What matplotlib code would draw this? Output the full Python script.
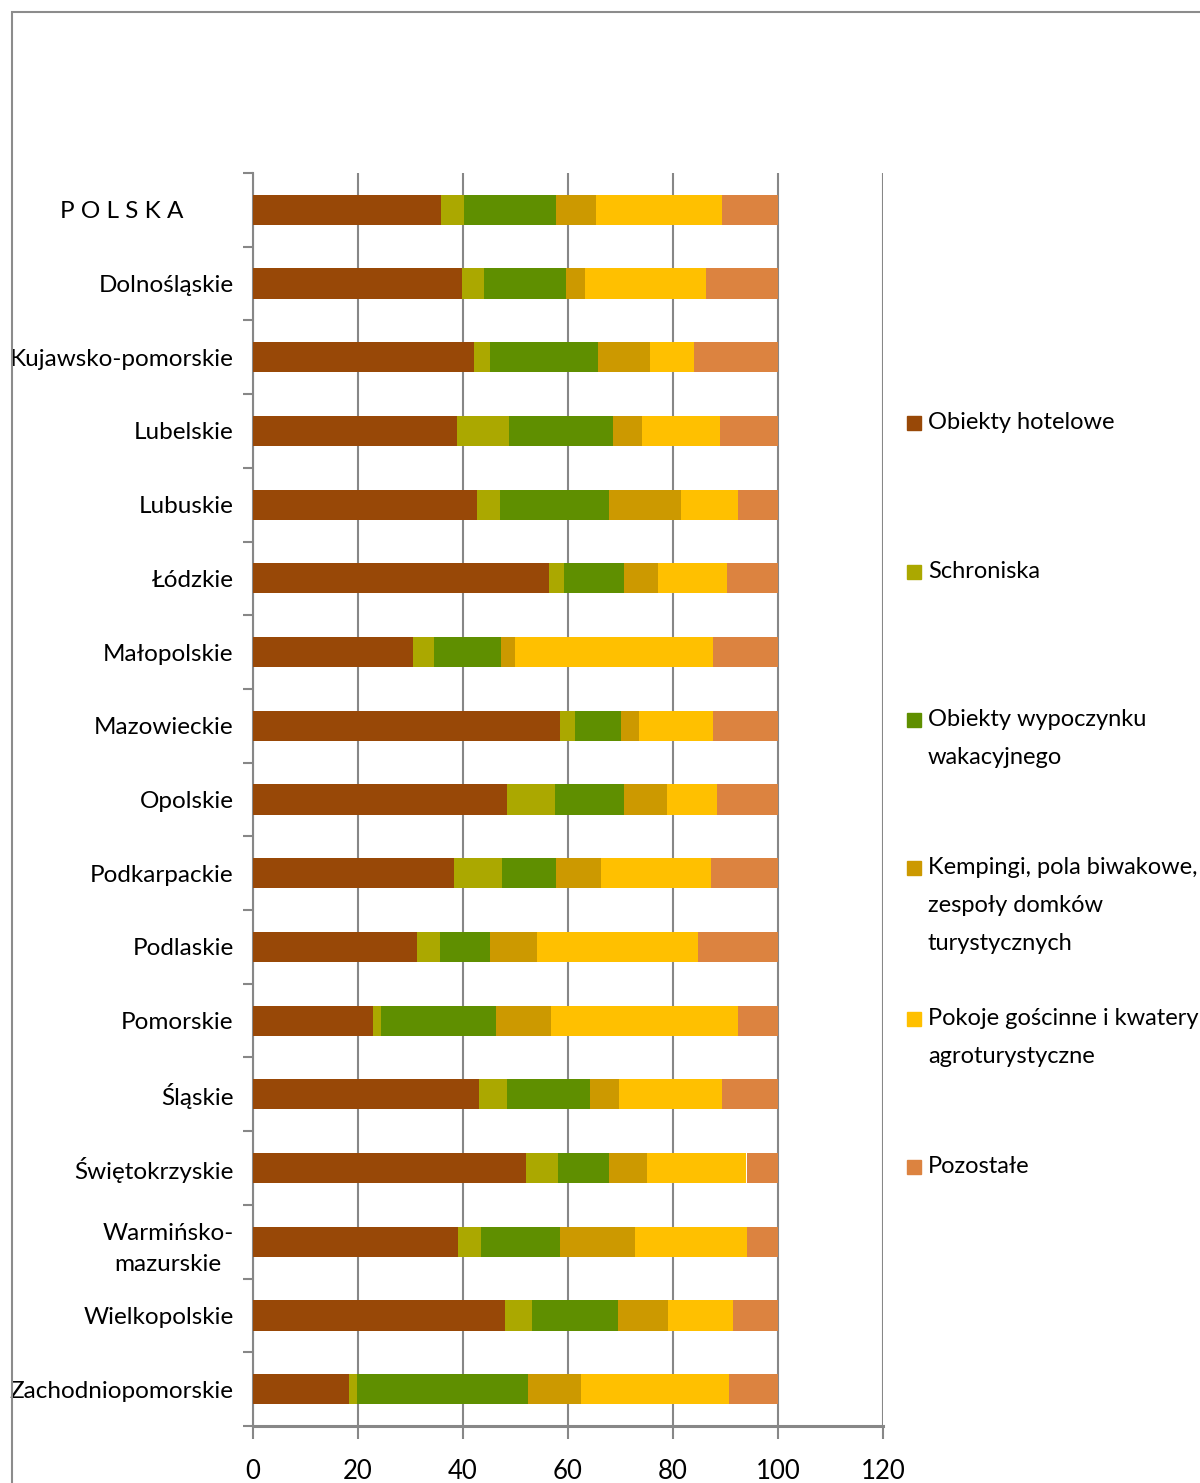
import numpy as np
import matplotlib
matplotlib.use("Agg")
from matplotlib import pyplot as plt
from matplotlib.patches import Rectangle

plt.rcParams['font.family'] = ['Lato', 'DejaVu Sans']

regions = ["P O L S K A        ", "Dolnośląskie", "Kujawsko-pomorskie", "Lubelskie", "Lubuskie",
           "Łódzkie", "Małopolskie", "Mazowieckie", "Opolskie", "Podkarpackie", "Podlaskie",
           "Pomorskie", "Śląskie", "Świętokrzyskie", "Warmińsko-\nmazurskie", "Wielkopolskie",
           "Zachodniopomorskie"]

hotelowe = [35.8, 39.8, 42.1, 38.9, 42.7, 56.4, 30.4, 58.5, 48.4, 38.2, 31.2, 22.8, 43.0, 52.0, 39.0, 48.0, 18.2]
schroniska = [4.4, 4.2, 3.0, 9.8, 4.3, 2.8, 4.0, 2.8, 9.1, 9.2, 4.4, 1.5, 5.4, 6.1, 4.4, 5.2, 1.7]
wypoczynek = [17.5, 15.6, 20.6, 19.9, 20.8, 11.5, 12.8, 8.8, 13.2, 10.3, 9.5, 22.0, 15.8, 9.7, 15.1, 16.3, 32.5]
kempingi = [7.7, 3.7, 10.0, 5.4, 13.8, 6.5, 2.7, 3.5, 8.2, 8.6, 9.0, 10.5, 5.5, 7.3, 14.3, 9.6, 10.1]
pokoje = [24.0, 22.9, 8.3, 15.0, 10.7, 13.0, 37.8, 14.1, 9.4, 21.0, 30.6, 35.5, 19.7, 18.9, 21.2, 12.4, 28.2]
pozostale = [10.6, 13.8, 16.0, 11.0, 7.7, 9.8, 12.3, 12.3, 11.7, 12.7, 15.3, 7.7, 10.6, 6.0, 6.0, 8.5, 9.3]

series_names = ["Obiekty hotelowe", "Schroniska", "Obiekty wypoczynku\nwakacyjnego",
                "Kempingi, pola biwakowe,\nzespoły domków\nturystycznych",
                "Pokoje gościnne i kwatery\nagroturystyczne", "Pozostałe"]
series_colors = ["#984807", "#ABA800", "#5F8F00", "#CC9900", "#FFC000", "#DC8340"]
x_ticks = [0, 20, 40, 60, 80, 100, 120]

W, H = 1200, 1483
FS = 17.5
fig = plt.figure(figsize=(W / 100, H / 100), dpi=100)
grid_col = "#878787"

# outer frame (chart area border, cut at right/bottom)
fig.add_artist(Rectangle((12 / W, -0.1), 2, 1 - 12 / H + 0.1, transform=fig.transFigure,
                         fill=False, edgecolor="#8c8c8c", lw=1.5))

ax = fig.add_axes([253 / W, 1 - 1426 / H, (883 - 253) / W, (1426 - 173) / H])

y = np.arange(len(regions))
left = np.zeros(len(regions))
for vals, name, col in zip([hotelowe, schroniska, wypoczynek, kempingi, pokoje, pozostale],
                           series_names, series_colors):
    ax.barh(y, vals, left=left, height=0.41, color=col, label=name, zorder=3)
    left += np.array(vals)

ax.set_xlim(0, 120)
ax.set_ylim(len(regions) - 0.5, -0.5)
ax.set_xticks(x_ticks)
ax.set_xticklabels([str(t) for t in x_ticks], fontsize=FS + 1)
ax.set_yticks(y)
ax.set_yticklabels(regions, fontsize=FS)
ax.set_yticks(np.arange(len(regions) + 1) - 0.5, minor=True)
for lab in ax.get_yticklabels():
    lab.set_multialignment("center")
    lab.set_linespacing(1.6)

ax.grid(axis="x", color=grid_col, lw=1.5, zorder=0)
for s in ["top", "right"]:
    ax.spines[s].set_visible(False)
ax.spines["left"].set_color(grid_col)
ax.spines["left"].set_linewidth(1.5)
ax.spines["bottom"].set_color(grid_col)
ax.spines["bottom"].set_linewidth(2.2)
ax.tick_params(axis="y", which="major", length=0, pad=14)
ax.tick_params(axis="y", which="minor", length=7, width=1.5, color=grid_col)
ax.tick_params(axis="x", length=9, width=1.5, color=grid_col, pad=15)

# legend drawn by hand so each entry sits at a fixed step
leg_y = [423, 572, 720, 868, 1019, 1167]
for name, col, yy in zip(series_names, series_colors, leg_y):
    fig.add_artist(Rectangle((907 / W, 1 - (yy + 7) / H), 14 / W, 14 / H,
                             transform=fig.transFigure, color=col))
    fig.text(928 / W, 1 - (yy - 11) / H, name, fontsize=FS - 0.5, va="top", ha="left",
             linespacing=2.0)

fig.savefig("out.png", dpi=100)
